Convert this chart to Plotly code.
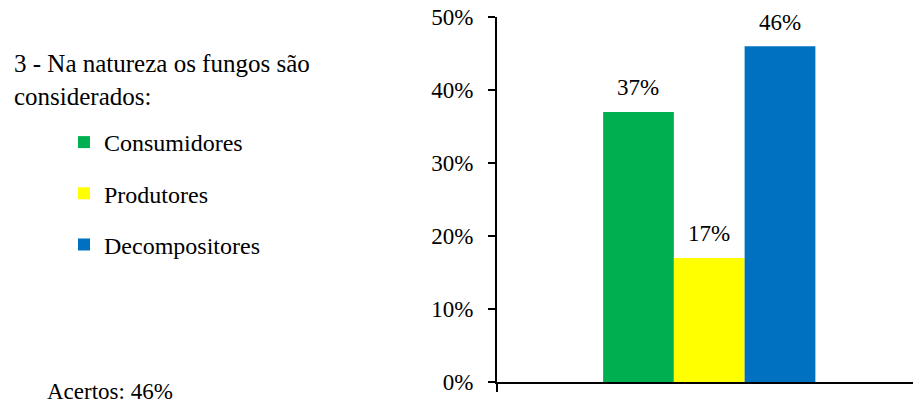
import plotly.graph_objects as go

categories = ["Q3"]
series_names = ["Consumidores", "Produtores", "Decompositores"]
series_values = [[0.37], [0.17], [0.46]]
series_colors = ["#00B050", "#FFFF00", "#0070C0"]
title_text = "3 - Na natureza os fungos são<br>considerados:"
note_text = "Acertos: 46%"

W, H = 913, 404
L, R, T, B = 497, 0, 17, 22
PW = W - L - R
PH = H - T - B
FONT = "Liberation Serif"


def px_x(p):
    return (p - L) / PW


def px_y(p):
    return 1 - (p - T) / PH


fig = go.Figure()
for i, (name, vals, col) in enumerate(zip(series_names, series_values, series_colors)):
    fig.add_trace(go.Bar(
        x=categories, y=vals, name=name, marker=dict(color=col, line=dict(width=0)),
        legendgroup=f"g{i}", hoverinfo="skip",
    ))

# value labels above bars
xrange = [-0.5, 0.48]
bar_w_units = (1 - 0.5) / len(series_names)
px_per_unit = PW / (xrange[1] - xrange[0])
for i, vals in enumerate(series_values):
    offset = (i - (len(series_names) - 1) / 2) * bar_w_units * px_per_unit
    for c, v in zip(categories, vals):
        fig.add_annotation(
            x=c, y=v, xref="x", yref="y", text=f"{round(v * 100)}%",
            showarrow=False, xshift=offset, yshift=24, yanchor="middle",
            font=dict(family=FONT, size=23, color="black"),
        )

fig.add_annotation(
    x=px_x(12), y=px_y(80), xref="paper", yref="paper", text=title_text,
    showarrow=False, xanchor="left", yanchor="middle", align="left",
    font=dict(family=FONT, size=25, color="black"),
)
fig.add_annotation(
    x=px_x(45), y=px_y(391), xref="paper", yref="paper", text=note_text,
    showarrow=False, xanchor="left", yanchor="middle", align="left",
    font=dict(family=FONT, size=23, color="black"),
)

fig.update_layout(
    width=W, height=H,
    margin=dict(l=L, r=R, t=T, b=B, autoexpand=False),
    paper_bgcolor="white", plot_bgcolor="white",
    barmode="group", bargap=0.5, bargroupgap=0,
    showlegend=True,
    legend=dict(
        x=px_x(64), y=px_y(120), xanchor="left", yanchor="top",
        traceorder="grouped", tracegroupgap=17,
        font=dict(family=FONT, size=24, color="black"),
        bgcolor="rgba(0,0,0,0)",
    ),
    xaxis=dict(
        range=xrange, showticklabels=False, showgrid=False, zeroline=False,
        showline=True, linecolor="black", linewidth=2,
        ticks="outside", tickson="boundaries", ticklen=8, tickwidth=2, tickcolor="black",
    ),
    yaxis=dict(
        range=[0, 0.5], dtick=0.1, tickformat=".0%", showgrid=False, zeroline=False,
        showline=True, linecolor="black", linewidth=2,
        ticks="outside", ticklen=7, tickwidth=2, tickcolor="black",
        ticklabelstandoff=10, automargin=False,
        tickfont=dict(family=FONT, size=23, color="black"),
    ),
)

fig.write_html("out.html", config={"displayModeBar": False},
               post_script="document.body.style.margin='0';")
